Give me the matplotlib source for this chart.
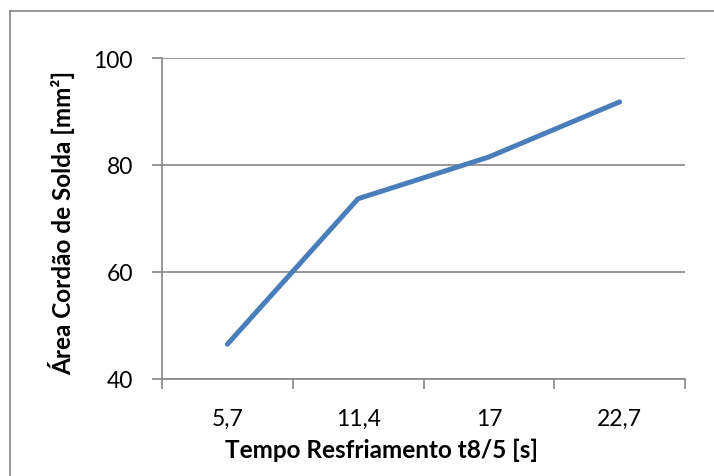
import matplotlib.pyplot as plt
from matplotlib.lines import Line2D
import numpy as np

# Cooling time categories and bead area values
tempos = ['5,7', '11,4', '17', '22,7']
areas = [46.5, 73.7, 81.5, 91.8]
y_ticks = [40, 60, 80, 100]

plt.rcParams['font.family'] = ['Lato', 'DejaVu Sans']

fig = plt.figure(figsize=(7.14, 4.77), dpi=100)
ax = fig.add_axes([0.2269, 0.2034, 0.9594 - 0.2269, 0.8763 - 0.2034])

x = np.arange(len(tempos))
ax.plot(x, areas, color='#4a7ebb', linewidth=3.6, solid_capstyle='round',
        solid_joinstyle='round', zorder=3)

ax.set_xlim(-0.5, len(tempos) - 0.5)
ax.set_ylim(40, 100)
ax.set_yticks(y_ticks)
ax.set_yticklabels([str(v) for v in y_ticks], fontsize=16.5)

# category tick marks sit between the labels
ax.set_xticks(np.arange(-0.5, len(tempos)))
ax.set_xticklabels([])
ax.set_xticks(x, minor=True)
ax.set_xticklabels(tempos, minor=True, fontsize=16.5)
ax.tick_params(axis='x', which='major', length=7, width=1.2, color='#868686', direction='out')
ax.tick_params(axis='x', which='minor', length=0, pad=21)
ax.tick_params(axis='y', length=7, width=1.2, color='#868686', direction='out', pad=14)

ax.grid(axis='y', color='#868686', linewidth=1.2)
ax.set_axisbelow(True)
for side in ['top', 'right']:
    ax.spines[side].set_visible(False)
for side in ['left', 'bottom']:
    ax.spines[side].set_color('#868686')
    ax.spines[side].set_linewidth(1.2)

ax.set_xlabel('Tempo Resfriamento t8/5 [s]', fontsize=17.5, fontweight='bold')
ax.xaxis.label.set_va('center')
ax.xaxis.set_label_coords(0.42, -0.218)
ax.set_ylabel('Área Cordão de Solda [mm²]', fontsize=17.5, fontweight='bold')
ax.yaxis.label.set_va('center')
ax.yaxis.set_label_coords(-0.191, 0.49)

# outer chart frame (top and left edges)
fig.add_artist(Line2D([10 / 714, 1.0], [1 - 12 / 477, 1 - 12 / 477],
                      transform=fig.transFigure, color='#868686', linewidth=1.2))
fig.add_artist(Line2D([10 / 714, 10 / 714], [0.0, 1 - 12 / 477],
                      transform=fig.transFigure, color='#868686', linewidth=1.2))

fig.savefig('out.png', dpi=100)
